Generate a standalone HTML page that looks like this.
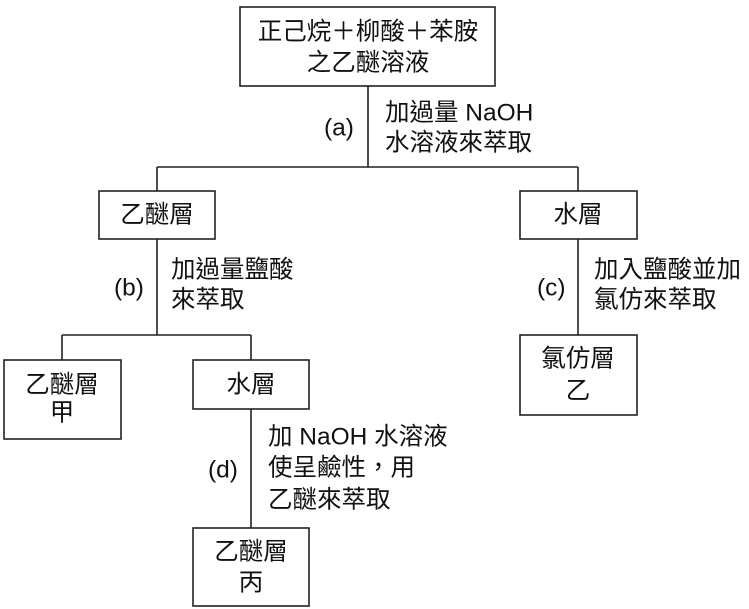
<!DOCTYPE html>
<html><head><meta charset="utf-8"><style>
html,body{margin:0;padding:0;background:#fff}
svg{display:block}
text{font-family:"Liberation Sans","Noto Sans CJK TC",sans-serif;font-size:24.5px;fill:#111;dominant-baseline:central}
</style></head><body>
<svg width="749" height="609" viewBox="0 0 749 609" xmlns="http://www.w3.org/2000/svg">
<g fill="none" stroke="#222" stroke-width="1.6">
<rect x="240" y="7" width="255" height="79"/>
<line x1="368" y1="86" x2="368" y2="167"/>
<line x1="157" y1="167" x2="578" y2="167"/>
<line x1="157" y1="167" x2="157" y2="191"/>
<line x1="578" y1="167" x2="578" y2="191"/>
<rect x="99" y="191" width="116" height="48"/>
<rect x="520" y="191" width="117" height="48"/>
<line x1="157" y1="239" x2="157" y2="335"/>
<line x1="578" y1="239" x2="578" y2="335"/>
<line x1="62" y1="335" x2="251" y2="335"/>
<line x1="62" y1="335" x2="62" y2="360"/>
<line x1="251" y1="335" x2="251" y2="360"/>
<rect x="4" y="360" width="117" height="79"/>
<rect x="193" y="360" width="116" height="49"/>
<rect x="520" y="335" width="117" height="80"/>
<line x1="251" y1="409" x2="251" y2="528"/>
<rect x="193" y="528" width="116" height="78"/>
</g>
<g text-anchor="middle">
<text x="368" y="32">正己烷＋柳酸＋苯胺</text>
<text x="368" y="63">之乙醚溶液</text>
<text x="157" y="215">乙醚層</text>
<text x="578" y="215">水層</text>
<text x="62" y="385">乙醚層</text>
<text x="62" y="413">甲</text>
<text x="251" y="385">水層</text>
<text x="578" y="359">氯仿層</text>
<text x="578" y="391">乙</text>
<text x="251" y="552">乙醚層</text>
<text x="251" y="583">丙</text>
</g>
<text x="324" y="128">(a)</text>
<text x="385" y="113">加過量 NaOH</text>
<text x="385" y="143">水溶液來萃取</text>
<text x="114" y="288">(b)</text>
<text x="171" y="270">加過量鹽酸</text>
<text x="171" y="300">來萃取</text>
<text x="537" y="288">(c)</text>
<text x="594" y="270">加入鹽酸並加</text>
<text x="594" y="300">氯仿來萃取</text>
<text x="208" y="470">(d)</text>
<text x="268" y="437">加 NaOH 水溶液</text>
<text x="268" y="468">使呈鹼性，用</text>
<text x="268" y="500">乙醚來萃取</text>
</svg>
</body></html>
